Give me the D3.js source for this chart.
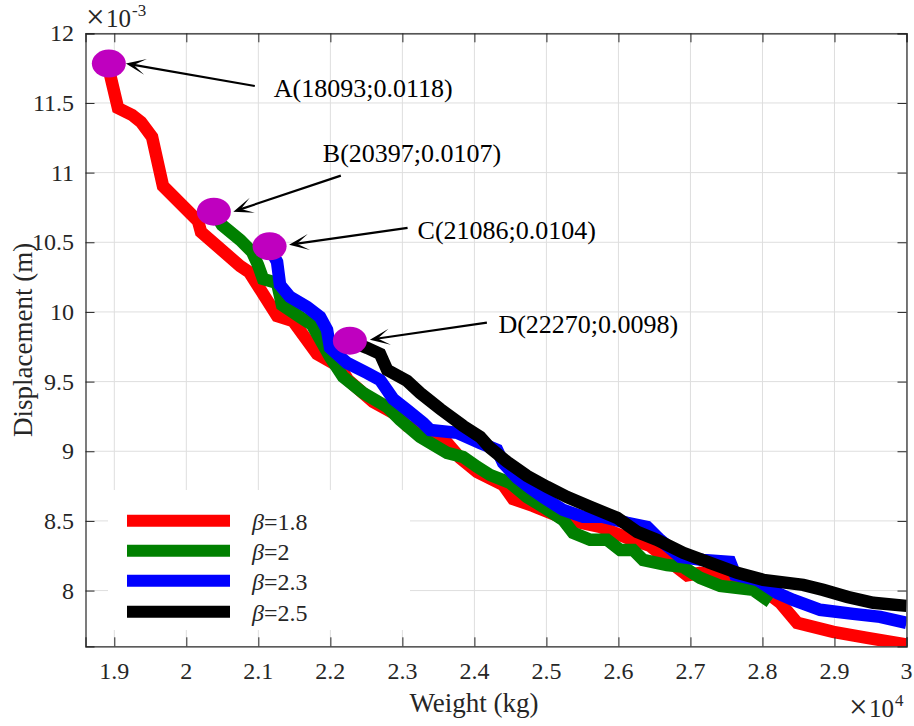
<!DOCTYPE html>
<html><head><meta charset="utf-8">
<script src="https://cdn.jsdelivr.net/npm/d3@7"></script>
<style>
body{margin:0;background:#fff}
svg{display:block}
</style>
</head><body>
<svg id="chart" width="914" height="726" font-family="'Liberation Serif', 'Times New Roman', serif"></svg>
<script>
// ---- data (weight in kg, displacement in 1e-3 m) ----
const seriesNames = ["1.8", "2", "2.3", "2.5"];
const seriesColors = ["#ff0000", "#008000", "#0000ff", "#000000"];

const beta18 = [[18913,11.765],[19051,11.464],[19246,11.414],[19371,11.363],[19524,11.256],[19676,10.904],
 [20162,10.653],[20204,10.574],[20746,10.330],[20871,10.287],[21260,9.971],[21482,9.935],[21815,9.699],
 [22135,9.605],[22246,9.512],[22593,9.354],[22926,9.261],[23065,9.182],[23288,9.146],[23621,9.060],
 [23801,8.952],[24038,8.852],[24399,8.759],[24538,8.658],[24815,8.608],[25301,8.507],[25746,8.457],
 [26121,8.378],[26440,8.321],[26676,8.220],[26954,8.110],[27135,8.127],[27593,8.091],[28010,8.005],
 [28246,7.912],[28482,7.768],[28982,7.704],[29454,7.661],[30000,7.612]];

const beta20 = [[20385,10.718],[20496,10.624],[20746,10.517],[20913,10.431],[20996,10.337],[21065,10.237],
 [21260,10.208],[21329,10.050],[21579,9.964],[21746,9.907],[21996,9.677],[22176,9.534],[22454,9.419],
 [22788,9.318],[22968,9.225],[23246,9.103],[23621,8.988],[23843,8.959],[24038,8.888],[24218,8.830],
 [24496,8.773],[24732,8.671],[24954,8.601],[25232,8.507],[25371,8.414],[25607,8.364],[25843,8.364],
 [26024,8.292],[26204,8.292],[26343,8.220],[26676,8.183],[26899,8.170],[27135,8.091],[27413,8.034],
 [27871,8.005],[28107,7.919]];

const beta23 = [[21149,10.466],[21260,10.359],[21301,10.194],[21440,10.108],[21676,10.036],[21857,9.964],
 [21954,9.871],[21996,9.742],[22232,9.634],[22510,9.562],[22690,9.512],[22871,9.376],[23065,9.297],
 [23288,9.203],[23385,9.153],[23760,9.132],[24079,9.060],[24315,9.010],[24399,8.916],[24593,8.809],
 [24774,8.737],[24954,8.671],[25232,8.579],[25510,8.529],[25788,8.529],[26121,8.486],[26399,8.457],
 [26579,8.364],[26857,8.242],[27176,8.220],[27551,8.206],[27621,8.113],[27926,8.077],[28204,7.983],
 [28426,7.933],[28801,7.862],[29260,7.833],[29635,7.811],[30000,7.768]];

const beta25 = [[22274,9.792],[22510,9.742],[22690,9.699],[22788,9.584],[23065,9.505],[23246,9.419],
 [23524,9.304],[23843,9.182],[24079,9.103],[24218,9.024],[24454,8.924],[24732,8.823],[25010,8.744],
 [25288,8.671],[25607,8.601],[25982,8.522],[26260,8.421],[26538,8.364],[26899,8.271],[27274,8.199],
 [27649,8.127],[28010,8.077],[28565,8.041],[28843,8.005],[29176,7.955],[29538,7.912],[30000,7.890]];

const xTicks = [19000,20000,21000,22000,23000,24000,25000,26000,27000,28000,29000,30000];
const xTickLabels = ["1.9","2","2.1","2.2","2.3","2.4","2.5","2.6","2.7","2.8","2.9","3"];
const yTicks = [8,8.5,9,9.5,10,10.5,11,11.5,12];
const yTickLabels = ["8","8.5","9","9.5","10","10.5","11","11.5","12"];

const markerNames = ["A","B","C","D"];
const markerX = [18924, 20382, 21156, 22271];
const markerY = [11.783, 10.720, 10.471, 9.794];
const markerLabels = ["A(18093;0.0118)","B(20397;0.0107)","C(21086;0.0104)","D(22270;0.0098)"];

// ---- layout ----
const L = 85.5, R = 906.5, T = 33.3, B = 646.3;
const svg = d3.select("#chart");
const x = d3.scaleLinear().domain([18600, 30000]).range([L, R]);
const y = d3.scaleLinear().domain([7.6, 12]).range([B, T]);
const axisColor = "#262626";

// grid
const grid = svg.append("g");
grid.selectAll(".gx").data(xTicks).join("line")
  .attr("x1", d => x(d)).attr("x2", d => x(d)).attr("y1", T).attr("y2", B)
  .attr("stroke", "#dedede").attr("stroke-width", 1);
grid.selectAll(".gy").data(yTicks).join("line")
  .attr("y1", d => y(d)).attr("y2", d => y(d)).attr("x1", L).attr("x2", R)
  .attr("stroke", "#dedede").attr("stroke-width", 1);

// legend background (covers grid)
const legendG = svg.append("g");
legendG.append("rect").attr("x", 108).attr("y", 490).attr("width", 302).attr("height", 140).attr("fill", "#fff");

// clip
svg.append("clipPath").attr("id", "plotclip").append("rect")
  .attr("x", L).attr("y", T).attr("width", R - L).attr("height", B - T);

const allSeries = [beta18, beta20, beta23, beta25];
const line = d3.line().x(d => x(d[0])).y(d => y(d[1]));
const dataG = svg.append("g").attr("clip-path", "url(#plotclip)");
allSeries.forEach((s, i) => {
  dataG.append("path").datum(s).attr("d", line)
    .attr("fill", "none").attr("stroke", seriesColors[i]).attr("stroke-width", 12.5)
    .attr("stroke-linejoin", "miter").attr("stroke-miterlimit", 3).attr("stroke-linecap", "butt");
});

// axes (box with inward ticks on all sides)
const axG = svg.append("g");
const axBottom = d3.axisBottom(x).tickValues(xTicks).tickSize(-9).tickFormat(() => "");
const axTop = d3.axisTop(x).tickValues(xTicks).tickSize(-9).tickFormat(() => "");
const axLeft = d3.axisLeft(y).tickValues(yTicks).tickSize(-9).tickFormat(() => "");
const axRight = d3.axisRight(y).tickValues(yTicks).tickSize(-9).tickFormat(() => "");
axG.append("g").attr("transform", `translate(0,${B})`).call(axBottom);
axG.append("g").attr("transform", `translate(0,${T})`).call(axTop);
axG.append("g").attr("transform", `translate(${L},0)`).call(axLeft);
axG.append("g").attr("transform", `translate(${R},0)`).call(axRight);
axG.selectAll("path.domain").attr("stroke", axisColor).attr("stroke-width", 1.2);
axG.selectAll(".tick line").attr("stroke", axisColor).attr("stroke-width", 1);

const FF = "'Liberation Serif', 'Times New Roman', serif";
// tick labels
svg.append("g").selectAll("text").data(xTicks).join("text")
  .attr("x", d => x(d)).attr("y", B + 33).attr("text-anchor", "middle")
  .attr("font-family", FF).attr("fill", axisColor)
  .attr("font-size", 24).text((d, i) => xTickLabels[i]);
svg.append("g").selectAll("text").data(yTicks).join("text")
  .attr("x", 74).attr("y", d => y(d) + 8).attr("text-anchor", "end")
  .attr("font-family", FF).attr("fill", axisColor)
  .attr("font-size", 24).text((d, i) => yTickLabels[i]);

// exponent labels
function expo(x0, yb, sup) {
  svg.append("text").attr("x", x0 - 1).attr("y", yb + 1).attr("font-family", FF).attr("fill", axisColor)
    .attr("font-size", 33).text("\u00d7");
  svg.append("text").attr("x", x0 + 19).attr("y", yb).attr("font-family", FF).attr("fill", axisColor)
    .attr("font-size", 25).text("10");
  svg.append("text").attr("x", x0 + 45).attr("y", yb - 11).attr("font-family", FF).attr("fill", axisColor)
    .attr("font-size", 17).text(sup);
}
expo(87, 27, "-3");
expo(850, 717, "4");

// axis labels
svg.append("text").attr("x", 474).attr("y", 712).attr("text-anchor", "middle")
  .attr("font-family", FF).attr("fill", axisColor)
  .attr("font-size", 27).text("Weight (kg)");
svg.append("text").attr("transform", `translate(32,${(T + B) / 2}) rotate(-90)`)
  .attr("font-family", FF).attr("fill", axisColor)
  .attr("text-anchor", "middle").attr("font-size", 27).text("Displacement (m)");

// legend
const legRows = [520.7, 550.7, 580.7, 611.7];
seriesNames.forEach((n, i) => {
  legendG.append("line").attr("x1", 127).attr("x2", 230).attr("y1", legRows[i]).attr("y2", legRows[i])
    .attr("stroke", seriesColors[i]).attr("stroke-width", 12);
  const t = legendG.append("text").attr("x", 252).attr("y", legRows[i] + 9).attr("font-size", 24)
    .attr("font-family", FF).attr("fill", axisColor);
  t.append("tspan").attr("font-style", "italic").text("\u03b2");
  t.append("tspan").text("=" + n);
});

// markers
const markG = svg.append("g");
markerX.forEach((mx, i) => {
  markG.append("ellipse").attr("cx", x(mx)).attr("cy", y(markerY[i]))
    .attr("rx", 17).attr("ry", 14).attr("fill", "#bf00bf");
});

// annotations: tip offset, tail offset, text offset relative to marker centre (px)
const annTip = [[17, 0], [19.5, 0], [19.5, -1.5], [20, -1]];
const annTail = [[146, 22.5], [127, -36], [138, -18.5], [137, -18]];
const annText = [[165, 33.5], [109, -50], [148, -7], [148.5, -7.5]];
const annG = svg.append("g");
markerX.forEach((mx, i) => {
  const cx = x(mx), cy = y(markerY[i]);
  const tx = cx + annTip[i][0], ty = cy + annTip[i][1];
  const sx = cx + annTail[i][0], sy = cy + annTail[i][1];
  const ang = Math.atan2(sy - ty, sx - tx);
  const hl = 20, hw = 8, notch = 8;
  const ux = Math.cos(ang), uy = Math.sin(ang), px = -uy, py = ux;
  annG.append("line").attr("x1", sx).attr("y1", sy).attr("x2", tx + ux * notch).attr("y2", ty + uy * notch)
    .attr("stroke", "#000").attr("stroke-width", 2.2);
  const pts = [[tx, ty], [tx + ux * hl + px * hw, ty + uy * hl + py * hw],
    [tx + ux * notch, ty + uy * notch], [tx + ux * hl - px * hw, ty + uy * hl - py * hw]];
  annG.append("path").attr("d", "M" + pts.map(p => p.join(",")).join("L") + "Z").attr("fill", "#000");
  annG.append("text").attr("x", cx + annText[i][0]).attr("y", cy + annText[i][1])
    .attr("font-family", FF).attr("font-size", 26).attr("fill", "#000").text(markerLabels[i]);
});
</script>
</body></html>
